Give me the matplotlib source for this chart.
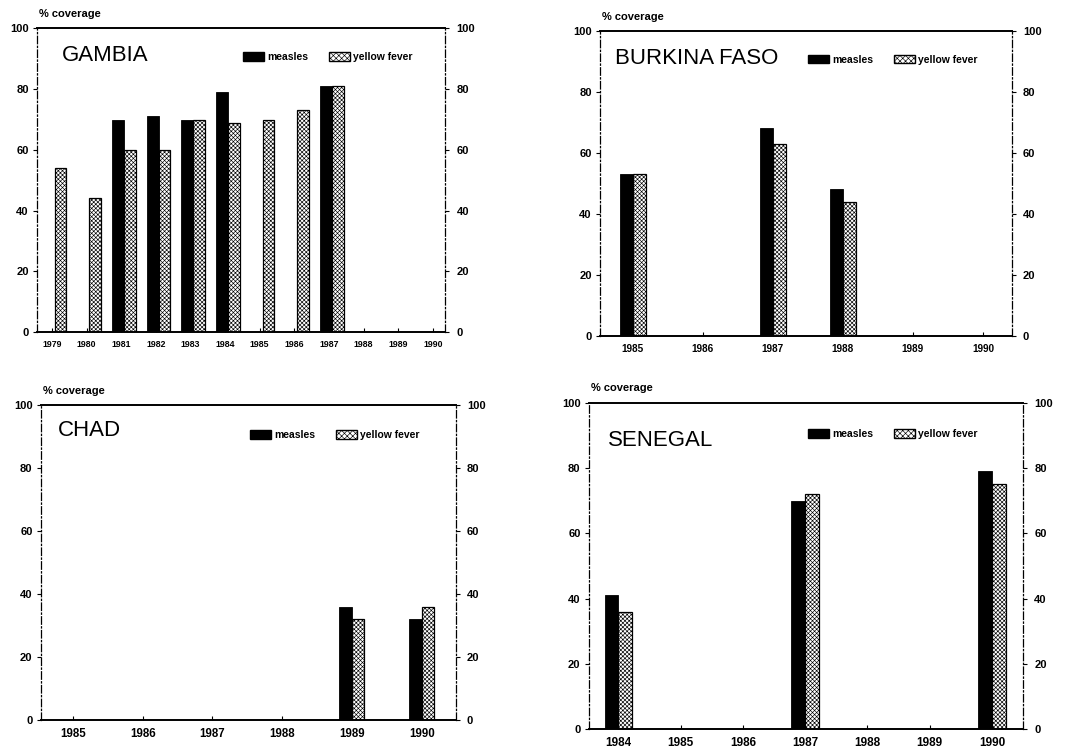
import matplotlib

matplotlib.use("Agg")
import matplotlib.pyplot as plt
import numpy as np
from matplotlib.patches import Patch

plt.rcParams["font.family"] = ["Liberation Sans", "DejaVu Sans"]
plt.rcParams["hatch.linewidth"] = 0.45

# values (% coverage)
gambia_years = ["1979", "1980", "1981", "1982", "1983", "1984",
                "1985", "1986", "1987", "1988", "1989", "1990"]
gambia_measles = [0, 0, 70, 71, 70, 79, 0, 0, 81, 0, 0, 0]
gambia_yf = [54, 44, 60, 60, 70, 69, 70, 73, 81, 0, 0, 0]

burkina_years = ["1985", "1986", "1987", "1988", "1989", "1990"]
burkina_measles = [53, 0, 68, 48, 0, 0]
burkina_yf = [53, 0, 63, 44, 0, 0]

chad_years = ["1985", "1986", "1987", "1988", "1989", "1990"]
chad_measles = [0, 0, 0, 0, 36, 32]
chad_yf = [0, 0, 0, 0, 32, 36]

senegal_years = ["1984", "1985", "1986", "1987", "1988", "1989", "1990"]
senegal_measles = [41, 0, 0, 70, 0, 0, 79]
senegal_yf = [36, 0, 0, 72, 0, 0, 75]

yticks = [0, 20, 40, 60, 80, 100]
series_names = ["measles", "yellow fever"]
YF_HATCH = "xxxxxxxx"


def panel(fig, rect, name, years, measles, yf, width, xlim, name_xy,
          leg_xy, shift=0.0, xsize=7.0):
    ax = fig.add_axes(rect)
    x = np.arange(len(years))
    ax.bar(x + shift - width / 2, measles, width, color="black",
           edgecolor="black", linewidth=0.6)
    ax.bar(x + shift + width / 2, yf, width, color="white",
           edgecolor="black", hatch=YF_HATCH, linewidth=0.9)

    ax.set_xlim(*xlim)
    ax.set_ylim(0, 100)
    ax.set_xticks(x, years)
    ax.set_yticks(yticks)
    ax.tick_params(axis="x", direction="in", length=3, pad=6,
                   labelsize=xsize)
    ax.tick_params(axis="y", direction="out", length=3, pad=3,
                   labelsize=8)
    for lab in ax.get_xticklabels() + ax.get_yticklabels():
        lab.set_fontweight("bold")

    ax.spines["top"].set_linewidth(1.4)
    ax.spines["bottom"].set_linewidth(1.4)
    for side in ("left", "right"):
        ax.spines[side].set_linewidth(0.9)
        ax.spines[side].set_linestyle((0, (6, 2, 1, 2)))

    ax2 = ax.twinx()
    ax2.set_ylim(0, 100)
    ax2.set_yticks(yticks)
    ax2.tick_params(axis="y", direction="out", length=3, pad=5,
                    labelsize=8)
    for lab in ax2.get_yticklabels():
        lab.set_fontweight("bold")
    for sp in ax2.spines.values():
        sp.set_visible(False)

    ax.text(0.005, 1.03, "% coverage", transform=ax.transAxes, fontsize=8,
            fontweight="bold", ha="left", va="bottom")
    ax.text(*name_xy, name, transform=ax.transAxes, fontsize=16,
            ha="left", va="center")

    handles = [
        Patch(facecolor="black", edgecolor="black"),
        Patch(facecolor="white", edgecolor="black", hatch="xxxxxx"),
    ]
    ax.legend(handles, series_names, loc="center left",
              bbox_to_anchor=leg_xy, ncol=2, frameon=False,
              handlelength=2.0, handleheight=0.9, handletextpad=0.3,
              columnspacing=2.0, borderaxespad=0,
              prop={"size": 7.5, "weight": "bold"})
    return ax


fig = plt.figure(figsize=(10.72, 7.48), dpi=100)

panel(fig, [0.0345, 0.556, 0.381, 0.406], "GAMBIA",
      gambia_years, gambia_measles, gambia_yf, 0.34, (-0.43, 11.36),
      (0.06, 0.91), (0.495, 0.905), shift=0.08, xsize=6.3)
panel(fig, [0.5597, 0.551, 0.384, 0.408], "BURKINA FASO",
      burkina_years, burkina_measles, burkina_yf, 0.18, (-0.47, 5.41),
      (0.036, 0.91), (0.495, 0.905), xsize=7.2)
panel(fig, [0.0382, 0.0374, 0.387, 0.421], "CHAD",
      chad_years, chad_measles, chad_yf, 0.18, (-0.46, 5.49),
      (0.041, 0.92), (0.495, 0.905), xsize=8.3)
panel(fig, [0.5494, 0.0254, 0.405, 0.436], "SENEGAL",
      senegal_years, senegal_measles, senegal_yf, 0.22, (-0.47, 6.5),
      (0.044, 0.886), (0.495, 0.905), xsize=8.5)

fig.savefig("out.png", dpi=100)
